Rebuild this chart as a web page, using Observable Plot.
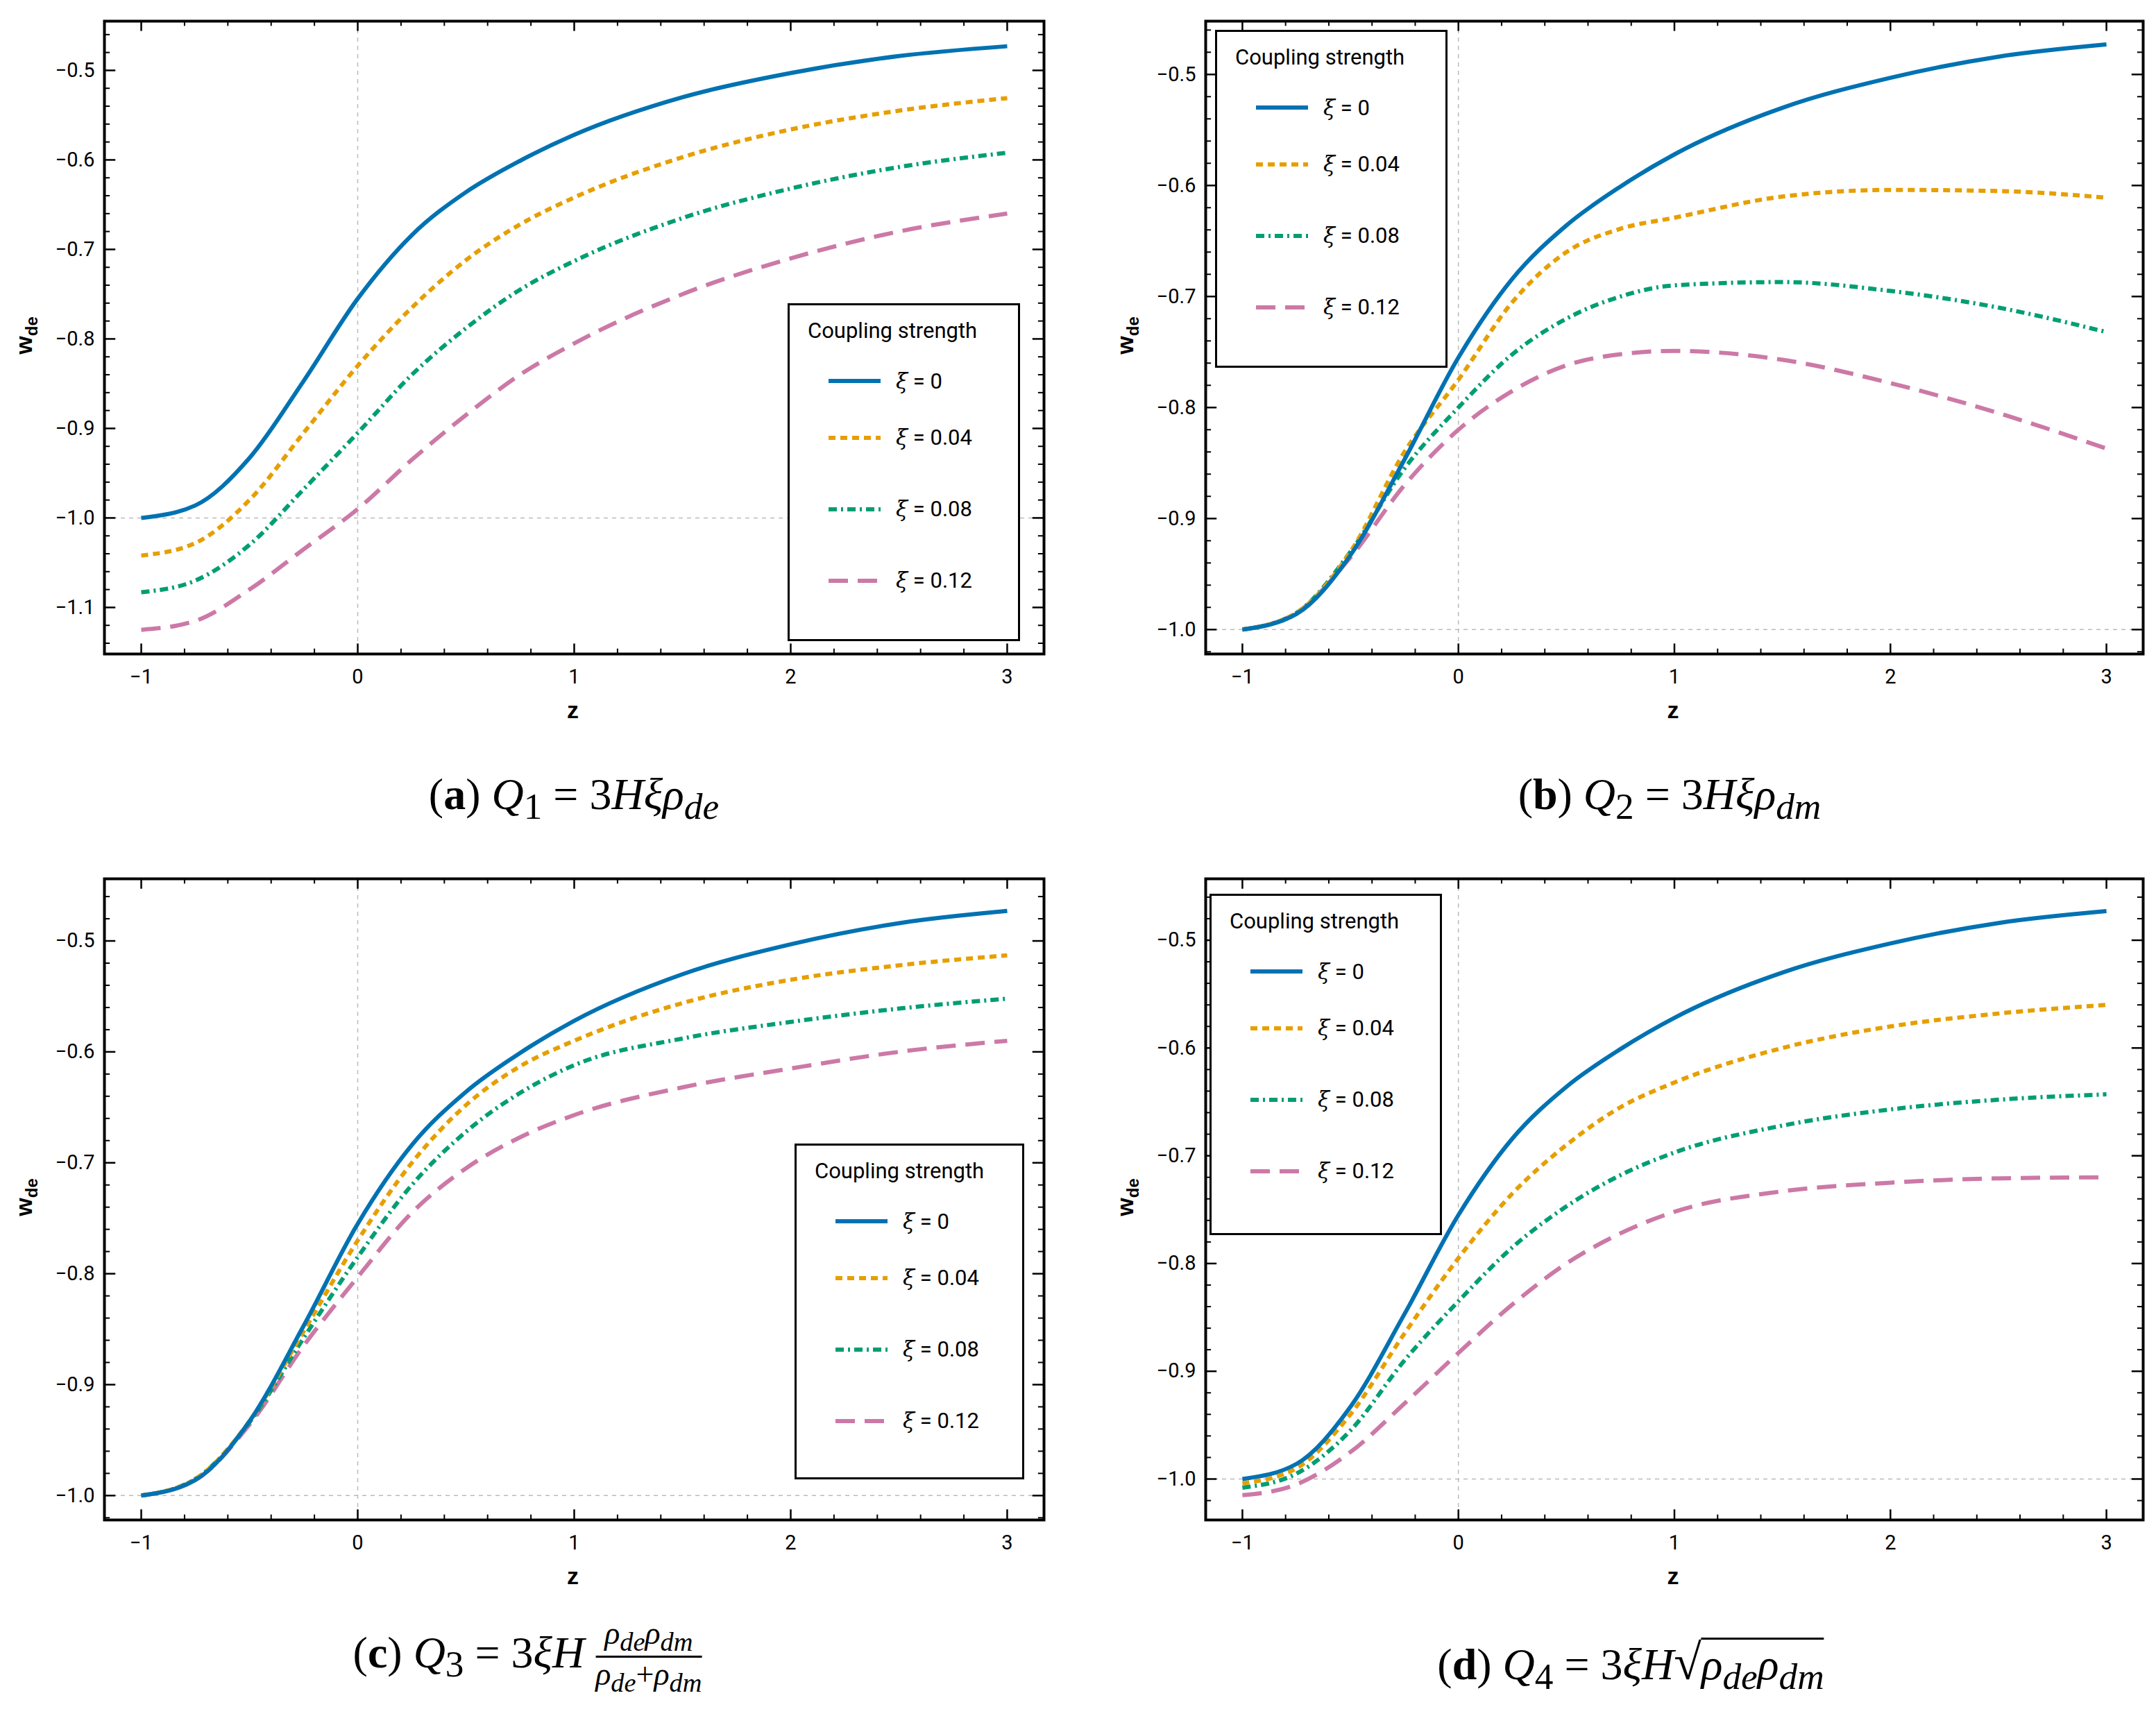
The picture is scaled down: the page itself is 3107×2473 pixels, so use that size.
<!DOCTYPE html>
<html><head><meta charset="utf-8">
<script src="https://cdn.jsdelivr.net/npm/d3@7/dist/d3.min.js"></script>
<script src="https://cdn.jsdelivr.net/npm/@observablehq/plot@0.6/dist/plot.umd.min.js"></script>
<style>
body{margin:0;background:#fff;width:3107px;height:2473px;position:relative;overflow:hidden;font-family:"Liberation Sans Narrow","Roboto",sans-serif}
.panel{position:absolute}
.cap{position:absolute;font-family:"Liberation Serif","DejaVu Serif",serif;font-size:64px;white-space:nowrap;transform:translateX(-50%)}
.cap i{font-style:italic}
.ylab{position:absolute;font-family:"Liberation Sans","Roboto",sans-serif;font-weight:bold;font-size:34px;transform:rotate(-90deg);transform-origin:center}
.xlab{position:absolute;font-family:"Liberation Sans","Roboto",sans-serif;font-weight:bold;font-size:34px}
.leg{position:absolute;border:3px solid #000;background:#fff;box-sizing:border-box;padding:18px 0 0 26px}
.leg .t{font-size:31px;margin-bottom:24px;font-family:"Roboto",sans-serif}
.leg .r{display:flex;align-items:center;height:103px;font-size:31px;font-family:"Roboto",sans-serif}
.leg svg{margin:0 22px 0 30px}
.frac{display:inline-flex;flex-direction:column;vertical-align:middle;font-size:46px;text-align:center;line-height:1.05}
.frac span:first-child{border-bottom:3px solid #000;padding:0 4px}
</style></head><body>
<script>
const zs = [-1,-0.75,-0.5,-0.25,0,0.25,0.5,0.75,1,1.5,2,2.5,3];
const series = ["ξ = 0","ξ = 0.04","ξ = 0.08","ξ = 0.12"];
const colors = ["#0072B2","#E69F00","#009E73","#CC79A7"];
const dashes = [null,"10,7","12,6,3,6","28,14"];
const base = [-1.0,-0.986,-0.933,-0.847,-0.755,-0.684,-0.636,-0.601,-0.572,-0.530,-0.503,-0.484,-0.473];
const a1 = [-1.042,-1.028,-0.98,-0.905,-0.83,-0.765,-0.712,-0.672,-0.642,-0.597,-0.566,-0.545,-0.531];
const a2 = [-1.083,-1.07,-1.03,-0.968,-0.905,-0.84,-0.788,-0.745,-0.713,-0.665,-0.632,-0.608,-0.592];
const a3 = [-1.125,-1.115,-1.08,-1.035,-0.99,-0.935,-0.885,-0.84,-0.805,-0.75,-0.71,-0.68,-0.66];
const b1 = [-1,-0.985,-0.93,-0.84,-0.775,-0.705,-0.66,-0.639,-0.629,-0.61,-0.604,-0.605,-0.611];
const b2 = [-1,-0.985,-0.93,-0.855,-0.80,-0.752,-0.72,-0.70,-0.69,-0.687,-0.695,-0.71,-0.732];
const b3 = [-1,-0.985,-0.935,-0.87,-0.82,-0.785,-0.762,-0.752,-0.749,-0.757,-0.778,-0.805,-0.837];
const c1 = [-1,-0.985,-0.933,-0.852,-0.77,-0.70,-0.648,-0.613,-0.59,-0.556,-0.535,-0.522,-0.513];
const c2 = [-1,-0.985,-0.934,-0.858,-0.785,-0.72,-0.672,-0.637,-0.612,-0.588,-0.573,-0.561,-0.552];
const c3 = [-1,-0.986,-0.936,-0.865,-0.803,-0.745,-0.705,-0.677,-0.657,-0.632,-0.615,-0.600,-0.59];
const d1 = [-1.004,-0.99,-0.94,-0.865,-0.795,-0.735,-0.69,-0.655,-0.632,-0.60,-0.58,-0.568,-0.56];
const d2 = [-1.008,-0.995,-0.955,-0.89,-0.835,-0.785,-0.747,-0.718,-0.697,-0.672,-0.657,-0.648,-0.643];
const d3v = [-1.015,-1.005,-0.975,-0.93,-0.883,-0.838,-0.8,-0.772,-0.752,-0.733,-0.725,-0.721,-0.72];
const xTicks = [-1,0,1,2,3];
const yTicksA = [-1.1,-1.0,-0.9,-0.8,-0.7,-0.6,-0.5];
const yTicksB = [-1.0,-0.9,-0.8,-0.7,-0.6,-0.5];

function rng(a,b,s){const o=[];for(let i=0;a+i*s<=b+1e-9;i++)o.push(+(a+i*s).toFixed(3));return o;}

const panels = [
  {left:0, top:0, ys:[base,a1,a2,a3], yd:[-1.152,-0.445], yt:yTicksA, ml:150, mr:49, mt:30, h:1080, mb:138, leg:[1135,437,335,487]},
  {left:1553, top:0, ys:[base,b1,b2,b3], yd:[-1.022,-0.452], yt:yTicksB, ml:184, mr:18, mt:30, h:1080, mb:138, leg:[1751,43,335,487]},
  {left:0, top:1236, ys:[base,c1,c2,c3], yd:[-1.022,-0.444], yt:yTicksB, ml:150, mr:49, mt:30, h:1092, mb:138, leg:[1145,1648,331,484]},
  {left:1553, top:1236, ys:[base,d1,d2,d3v], yd:[-1.038,-0.443], yt:yTicksB, ml:184, mr:18, mt:30, h:1092, mb:138, leg:[1743,1288,335,492]}
];

panels.forEach(p => {
  const xd = [-1.17, 3.17];
  const rows = [];
  p.ys.forEach((arr, si) => arr.forEach((v, i) => rows.push({z: zs[i], w: v, s: si})));
  const ySpan = p.yd[1]-p.yd[0], xSpan = xd[1]-xd[0];
  const majY = ySpan*0.016, minY = ySpan*0.008, majX = xSpan*0.012, minX = xSpan*0.006;
  const minorX = rng(-1.2, 3.2, 0.2).filter(v=>v>xd[0]&&v<xd[1]&&!xTicks.includes(v));
  const minorY = rng(-1.2, -0.4, 0.02).filter(v=>v>p.yd[0]&&v<p.yd[1]&&Math.abs(v*10-Math.round(v*10))>1e-6);
  const marks = [
    Plot.ruleX([0], {stroke:"#bbb", strokeDasharray:"6,6", strokeWidth:1.5}),
    Plot.ruleY([-1], {stroke:"#bbb", strokeDasharray:"6,6", strokeWidth:1.5}),
    Plot.ruleX(xTicks, {y1:p.yd[0], y2:p.yd[0]+majY, stroke:"#000", strokeWidth:2.5}),
    Plot.ruleX(xTicks, {y1:p.yd[1], y2:p.yd[1]-majY, stroke:"#000", strokeWidth:2.5}),
    Plot.ruleX(minorX, {y1:p.yd[0], y2:p.yd[0]+minY, stroke:"#000", strokeWidth:2}),
    Plot.ruleX(minorX, {y1:p.yd[1], y2:p.yd[1]-minY, stroke:"#000", strokeWidth:2}),
    Plot.ruleY(p.yt, {x1:xd[0], x2:xd[0]+majX, stroke:"#000", strokeWidth:2.5}),
    Plot.ruleY(p.yt, {x1:xd[1], x2:xd[1]-majX, stroke:"#000", strokeWidth:2.5}),
    Plot.ruleY(minorY, {x1:xd[0], x2:xd[0]+minX, stroke:"#000", strokeWidth:2}),
    Plot.ruleY(minorY, {x1:xd[1], x2:xd[1]-minX, stroke:"#000", strokeWidth:2}),
    Plot.axisX(xTicks, {tickSize:0, tickPadding:22, fontSize:29, tickFormat:d=>String(d).replace("-","−")}),
    Plot.axisY(p.yt, {tickSize:0, tickPadding:14, fontSize:29, tickFormat:d=>d.toFixed(1).replace("-","−")}),
  ];
  [3,2,1,0].forEach(si => {
    marks.push(Plot.line(rows.filter(r=>r.s===si), {x:"z", y:"w", stroke:colors[si], strokeWidth:6,
      strokeDasharray:dashes[si] || undefined, curve:"monotone-x", strokeLinecap:"butt"}));
  });
  marks.push(Plot.frame({stroke:"#000", strokeWidth:4}));
  const chart = Plot.plot({
    width:1553, height:p.h, marginLeft:p.ml, marginRight:p.mr, marginTop:p.mt, marginBottom:p.mb,
    x:{domain:xd, label:null}, y:{domain:p.yd, label:null},
    style:{fontFamily:"'Liberation Sans Narrow', Roboto, sans-serif", color:"#000", background:"transparent"},
    marks
  });
  const div = document.createElement("div");
  div.className = "panel"; div.style.left = p.left+"px"; div.style.top = p.top+"px";
  div.appendChild(chart); document.body.appendChild(div);
  const frameH = p.h - p.mt - p.mb;
  const yl = document.createElement("div"); yl.className="ylab";
  yl.innerHTML = "w<sub style='font-size:24px'>de</sub>";
  yl.style.left = (p.left + p.ml - 140) + "px"; yl.style.top = (p.top + p.mt + frameH/2 - 25) + "px";
  document.body.appendChild(yl);
  const xl = document.createElement("div"); xl.className="xlab"; xl.textContent="z";
  xl.style.left = (p.left + p.ml + (1553-p.ml-p.mr)/2 - 10) + "px"; xl.style.top = (p.top + p.mt + frameH + 62) + "px";
  document.body.appendChild(xl);
  const [lx,ly,lw,lh] = p.leg;
  const lg = document.createElement("div"); lg.className="leg";
  lg.style.left=lx+"px"; lg.style.top=ly+"px"; lg.style.width=lw+"px"; lg.style.height=lh+"px";
  let html = "<div class='t'>Coupling strength</div>";
  series.forEach((s,i)=>{
    html += `<div class='r' style='height:${i===0?60:103}px'><svg width="75" height="12"><line x1="0" y1="6" x2="75" y2="6" stroke="${colors[i]}" stroke-width="6" ${dashes[i]?`stroke-dasharray="${dashes[i]}"`:""}/></svg><span><i style="font-family:'DejaVu Serif',serif">ξ</i>${s.slice(1)}</span></div>`;
  });
  lg.innerHTML = html; document.body.appendChild(lg);
});

const caps = [
  [827, 1108, "(<b>a</b>) <i>Q</i><sub>1</sub> = 3<i>Hξρ<sub>de</sub></i>"],
  [2406, 1108, "(<b>b</b>) <i>Q</i><sub>2</sub> = 3<i>Hξρ<sub>dm</sub></i>"],
  [760, 2330, "(<b>c</b>) <i>Q</i><sub>3</sub> = 3<i>ξH</i> <span class='frac'><span><i>ρ<sub>de</sub>ρ<sub>dm</sub></i></span><span><i>ρ<sub>de</sub></i>+<i>ρ<sub>dm</sub></i></span></span>"],
  [2350, 2355, "(<b>d</b>) <i>Q</i><sub>4</sub> = 3<i>ξH</i><span style='font-size:72px'>√</span><span style='border-top:3px solid #000'><i>ρ<sub>de</sub>ρ<sub>dm</sub></i></span>"]
];
caps.forEach(([x,y,h])=>{
  const c=document.createElement("div"); c.className="cap"; c.style.left=x+"px"; c.style.top=y+"px"; c.innerHTML=h;
  document.body.appendChild(c);
});
</script>
</body></html>
